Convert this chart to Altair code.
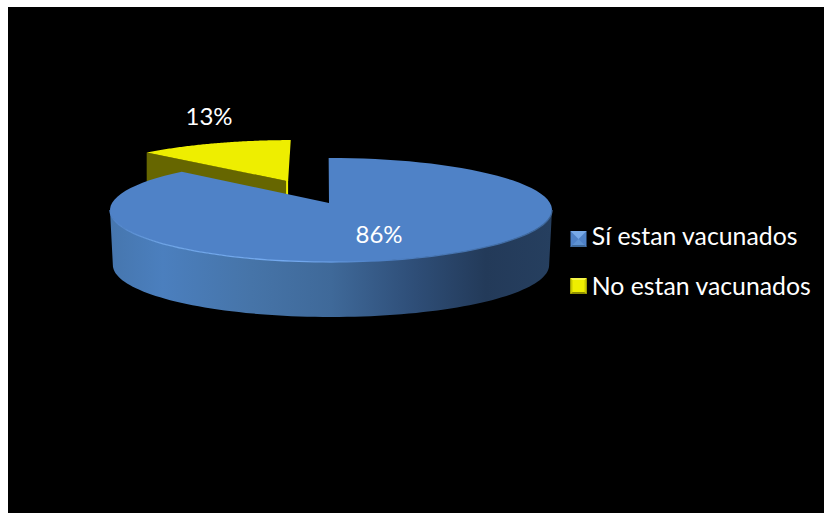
import math
import altair as alt
import pandas as pd

# Survey result
categories = ["Sí estan vacunados", "No estan vacunados"]
percentages = [86, 13]
face_colors = ["#4f82c7", "#eeee00"]

# Camera model of the tilted disc: unit-circle points are projected onto the page
CENTRE_X, APEX_Y = 331.0, 203.0
RADIUS_X, RADIUS_Y = 219.0, 51.06
TILT = 0.1346
DEPTH = 55.0
EXPLODE = 0.52
ROTATION = -0.7
NOTCH_SHIFT = -2.0
SLICE_RADIUS = 1.03
SLICE_DROP = 1.0


def project(angle, offset_x=0.0, offset_y=0.0, radius=1.0):
    """Clockwise angle from twelve o'clock (degrees) to page coordinates."""
    a = math.radians(angle + ROTATION)
    ux = offset_x + radius * math.sin(a)
    uy = offset_y + radius * math.cos(a)
    w = 1 + TILT * uy
    return CENTRE_X + RADIUS_X * ux / w, APEX_Y - RADIUS_Y * uy / w


def steps(start, end, n=90):
    return [start + (end - start) * i / n for i in range(n + 1)]


def outline(points):
    return pd.DataFrame(
        [{"px": x, "py": y, "step": i} for i, (x, y) in enumerate(points)]
    )


def dropped(points, dy):
    return [(x, y + dy) for x, y in points]


total = sum(percentages)
blue_sweep = 360 * percentages[0] / total
yellow_mid = blue_sweep + 180 * percentages[1] / total
off_x = EXPLODE * math.sin(math.radians(yellow_mid))
off_y = EXPLODE * math.cos(math.radians(yellow_mid))

# Outlines derived from the percentages
centre = project(0, radius=0)
blue_top = [(centre[0] + NOTCH_SHIFT, centre[1])] + [project(a) for a in steps(0, blue_sweep)]
quarter = math.degrees(math.acos(-TILT))
rim = [project(a) for a in steps(quarter - ROTATION, 360 - quarter - ROTATION)]
wall_centre = sum(p[0] for p in rim) / len(rim)
floor = [(wall_centre + (x - wall_centre) * 0.987, y + DEPTH) for x, y in rim]
blue_wall = rim + floor[::-1]

y_apex = project(0, off_x, off_y, 0)
y_left = project(blue_sweep, off_x, off_y, SLICE_RADIUS)
yellow_top = dropped(
    [y_apex] + [project(a, off_x, off_y, SLICE_RADIUS) for a in steps(blue_sweep, 360)],
    SLICE_DROP,
)
yellow_cut = dropped(
    [
        y_left,
        (y_apex[0] - 2, y_apex[1] - 0.5),
        (y_apex[0] - 2, y_apex[1] + DEPTH),
        (y_left[0], y_left[1] + DEPTH),
    ],
    SLICE_DROP,
)
yellow_edge = dropped(
    [
        (y_apex[0] - 2.5, y_apex[1] - 1),
        (y_apex[0], y_apex[1] - 1),
        (y_apex[0], y_apex[1] + DEPTH),
        (y_apex[0] - 2.5, y_apex[1] + DEPTH),
    ],
    SLICE_DROP,
)

x_enc = alt.X("px:Q", scale=alt.Scale(domain=[8, 824]), axis=None)
y_enc = alt.Y("py:Q", scale=alt.Scale(domain=[513, 7]), axis=None)


def polygon(points, fill):
    return (
        alt.Chart(outline(points))
        .mark_line(fill=fill, stroke=None, strokeWidth=0, clip=False)
        .encode(x=x_enc, y=y_enc, order="step:Q")
    )


def linear(stops):
    return alt.LinearGradient(
        gradient="linear",
        x1=0, x2=1, y1=0, y2=0,
        stops=[alt.GradientStop(offset=o, color=c) for o, c in stops],
    )


wall_fill = linear([
    (0.0, "#4676ae"), (0.12, "#4b7fbe"), (0.32, "#4674a8"),
    (0.5, "#3f6999"), (0.68, "#2f4f79"), (0.85, "#233a59"), (1.0, "#263f5f"),
])
rim_glow = linear([
    (0.0, "#4f82c7"), (0.12, "#6ea4e6"), (0.42, "#74aaf0"), (0.6, "#4f82c7"), (1.0, "#3d6699"),
])

BLUE_Y, YELLOW_Y, SWATCH_X = 239, 286, 578.5

# Swatches are drawn as marks; the legend supplies the aligned labels
legend_layer = (
    alt.Chart(pd.DataFrame({"category": categories, "px": [SWATCH_X, SWATCH_X], "py": [BLUE_Y, YELLOW_Y]}))
    .mark_square(size=256, filled=True, opacity=1)
    .encode(
        x=x_enc,
        y=y_enc,
        fill=alt.Fill(
            "category:N",
            scale=alt.Scale(domain=categories, range=face_colors),
            legend=alt.Legend(
                title=None,
                orient="none",
                legendX=559,
                legendY=219,
                symbolType="square",
                symbolSize=256,
                symbolStrokeWidth=0,
                symbolOpacity=0,
                labelFont="Lato",
                labelFontSize=24.8,
                labelColor="white",
                labelOffset=0,
                labelLimit=300,
                rowPadding=24,
                padding=0,
            ),
        ),
    )
)


def bevel(px, py, path, color):
    frame = pd.DataFrame({"px": [px], "py": [py]})
    return (
        alt.Chart(frame)
        .mark_point(shape=path, size=256, filled=True, fill=color, stroke=None, opacity=1)
        .encode(x=x_enc, y=y_enc)
    )


TOP_FACET = "M-1,-1L1,-1L0,0Z"
BOTTOM_FACET = "M-1,1L1,1L0,0Z"
TOP_STRIP = "M-1,-1L1,-1L0.75,-0.75L-0.75,-0.75Z"
BOTTOM_STRIP = "M-1,1L1,1L0.75,0.75L-0.75,0.75Z"
LEFT_STRIP = "M-1,-1L-0.75,-0.75L-0.75,0.75L-1,1Z"
RIGHT_STRIP = "M1,-1L0.75,-0.75L0.75,0.75L1,1Z"

swatch_facets = [
    bevel(SWATCH_X, BLUE_Y, TOP_FACET, "#78aae8"),
    bevel(SWATCH_X, BLUE_Y, BOTTOM_FACET, "#5e92d2"),
    bevel(SWATCH_X, BLUE_Y, BOTTOM_STRIP, "#3f6a9c"),
    bevel(SWATCH_X, YELLOW_Y, LEFT_STRIP, "#c9c900"),
    bevel(SWATCH_X, YELLOW_Y, RIGHT_STRIP, "#c9c900"),
    bevel(SWATCH_X, YELLOW_Y, TOP_STRIP, "#f6f64a"),
    bevel(SWATCH_X, YELLOW_Y, BOTTOM_STRIP, "#8f8f00"),
]

labels = pd.DataFrame({
    "text": [f"{percentages[0]}%", f"{percentages[1]}%"],
    "px": [379, 209],
    "py": [236, 118],
})
label_layer = (
    alt.Chart(labels)
    .mark_text(font="Lato", fontSize=24, color="white", baseline="middle", align="center")
    .encode(x=x_enc, y=y_enc, text="text:N")
)

rim_line = (
    alt.Chart(outline(rim))
    .mark_line(stroke=rim_glow, strokeWidth=1.3)
    .encode(x=x_enc, y=y_enc, order="step:Q")
)

chart = (
    alt.layer(
        legend_layer,
        polygon(yellow_edge, "#eeee00"),
        polygon(yellow_cut, "#666600"),
        polygon(yellow_top, "#eeee00"),
        polygon(blue_wall, wall_fill),
        polygon(blue_top, "#4f82c7"),
        rim_line,
        label_layer,
        *swatch_facets,
    )
    .properties(
        width=816,
        height=506,
        background="white",
        padding={"left": 8, "top": 7, "right": 0, "bottom": 0},
        autosize=alt.AutoSizeParams(type="none"),
    )
    .configure_view(fill="black", stroke=None)
)

chart.save("out.html", embed_options={"renderer": "svg", "actions": False})
